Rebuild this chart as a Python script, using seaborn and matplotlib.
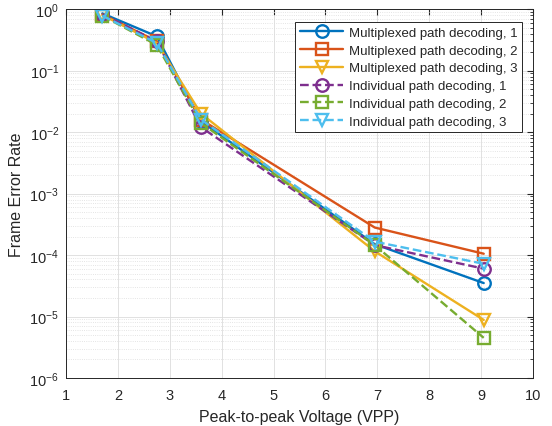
import matplotlib
matplotlib.use("Agg")
import matplotlib.pyplot as plt
import numpy as np
import pandas as pd
import seaborn as sns
from matplotlib.ticker import LogLocator, NullFormatter, FixedLocator

# Peak-to-peak voltage (VPP)
vpp = [1.7, 2.75, 3.6, 6.95, 9.05]

# frame error rate per decoding scheme
mux_1 = [0.85, 0.36, 0.015, 1.5e-4, 3.5e-5]
mux_2 = [0.82, 0.30, 0.016, 2.8e-4, 1.05e-4]
mux_3 = [0.80, 0.28, 0.020, 1.15e-4, 8.8e-6]
ind_1 = [0.82, 0.30, 0.012, 1.45e-4, 6.0e-5]
ind_2 = [0.78, 0.26, 0.014, 1.45e-4, 4.5e-6]
ind_3 = [0.78, 0.28, 0.016, 1.65e-4, 7.2e-5]

labels = [
    "Multiplexed path decoding, 1",
    "Multiplexed path decoding, 2",
    "Multiplexed path decoding, 3",
    "Individual path decoding, 1",
    "Individual path decoding, 2",
    "Individual path decoding, 3",
]
series = [mux_1, mux_2, mux_3, ind_1, ind_2, ind_3]

colors = ["#0072BD", "#D95319", "#EDB120", "#7E2F8E", "#77AC30", "#4DBEEE"]
markers = ["o", "s", "v", "o", "s", "v"]
styles = ["-", "-", "-", "--", "--", "--"]

sns.set_style("white")
plt.rcParams["font.family"] = ["Liberation Sans", "DejaVu Sans"]

fig = plt.figure(figsize=(5.52, 4.27), dpi=100)
ax = fig.add_axes([0.1196, 0.1124, 0.846, 0.864])

for lab, vals, c, m, ls in zip(labels, series, colors, markers, styles):
    df = pd.DataFrame({"vpp": vpp, "fer": vals})
    sns.lineplot(
        data=df, x="vpp", y="fer", ax=ax, color=c, marker=m, linestyle=ls,
        linewidth=1.7, markersize=9, markerfacecolor="none", markeredgecolor=c,
        markeredgewidth=1.7, label=lab,
    )

ax.set_yscale("log")
ax.set_xlim(1, 10)
ax.set_ylim(1e-6, 1)
ax.xaxis.set_major_locator(FixedLocator(np.arange(1, 11)))
ax.yaxis.set_major_locator(LogLocator(base=10, numticks=10))
ax.yaxis.set_minor_locator(LogLocator(base=10, subs=np.arange(2, 10), numticks=20))
ax.yaxis.set_minor_formatter(NullFormatter())

ax.grid(True, which="major", color="#dcdcdc", linewidth=0.6)
ax.grid(True, which="minor", axis="y", color="#dcdcdc", linestyle=":", linewidth=0.6)
ax.set_axisbelow(True)

for sp in ax.spines.values():
    sp.set_color("#262626")
    sp.set_linewidth(0.7)
ax.tick_params(which="both", direction="in", top=True, right=True, colors="#262626",
               labelsize=10.5, labelcolor="#262626")
ax.tick_params(which="major", length=4)
ax.tick_params(which="minor", length=2)
ax.tick_params(axis="x", pad=7)
ax.tick_params(axis="y", pad=5)

ax.set_xlabel("Peak-to-peak Voltage (VPP)", fontsize=11.5, color="#262626", labelpad=5)
ax.set_ylabel("Frame Error Rate", fontsize=11.5, color="#262626")

leg = ax.legend(loc="upper right", bbox_to_anchor=(0.976, 0.965), fontsize=9.5,
                frameon=True, fancybox=False, framealpha=1, edgecolor="#262626",
                handlelength=3.3, borderpad=0.35, labelspacing=0.42, handletextpad=0.4,
                borderaxespad=0)
leg.get_frame().set_linewidth(0.7)

fig.savefig("out.png", dpi=100)
